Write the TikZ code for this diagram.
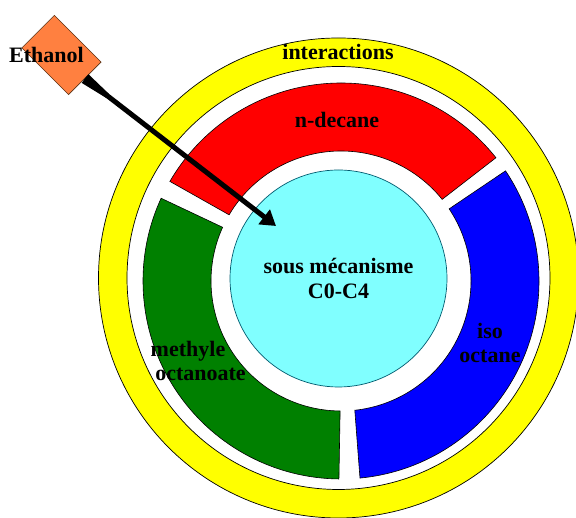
\documentclass[tikz,border=0pt]{standalone}
\usepackage{fontspec}
\setmainfont{Liberation Serif}
\usetikzlibrary{arrows.meta}
\definecolor{ringyellow}{RGB}{255,255,0}
\definecolor{segred}{RGB}{255,0,0}
\definecolor{seggreen}{RGB}{0,128,0}
\definecolor{segblue}{RGB}{0,0,255}
\definecolor{corecyan}{RGB}{128,255,255}
\definecolor{coreline}{RGB}{0,90,110}
\definecolor{ethorange}{RGB}{255,128,64}
\definecolor{ethline}{RGB}{90,50,20}
\begin{document}
\begin{tikzpicture}[x=1pt,y=1pt,
  lbl/.style={font=\bfseries\fontsize{22}{24.5}\selectfont, align=center, inner sep=0pt},
  seg/.style={draw=black, line width=0.6pt}]
\useasboundingbox (0,0) rectangle (576,518);
\clip (0,0) rectangle (576,518);
% outer yellow ring
\path[fill=ringyellow, draw=black, line width=0.7pt, even odd rule]
  (338.5,240) circle[radius=240] (338.5,240) circle[radius=211.5];
% coloured segments
\begin{scope}[shift={(341,237)}]
  \path[seg, fill=segred] (38.5:198) arc[start angle=38.5, end angle=149.8, radius=198]
     -- (149.4:130) arc[start angle=149.4, end angle=38.9, radius=130] -- cycle;
  \path[seg, fill=seggreen] (155.3:198) arc[start angle=155.3, end angle=269.4, radius=198]
     -- (269.6:130) arc[start angle=269.6, end angle=155.6, radius=130] -- cycle;
  \path[seg, fill=segblue] (-84.5:198) arc[start angle=-84.5, end angle=33.8, radius=198]
     -- (33.7:130) arc[start angle=33.7, end angle=-83.9, radius=130] -- cycle;
\end{scope}
% core
\node[circle, fill=corecyan, draw=coreline, line width=0.7pt, minimum size=217pt, lbl] (core)
  at (338.5,239.5) {sous mécanisme\\C0-C4};
% labels
\node[lbl] (inter) at (338,466) {interactions};
\node[lbl] (ndec) at (337,398) {n-decane};
\node[lbl] (meth) at (188,157) {methyle\\\hspace*{25pt}octanoate};
\node[lbl] (iso) at (490,175) {iso\\octane};
% ethanol
\node[rectangle, draw=ethline, fill=ethorange, line width=0.6pt, minimum width=66pt,
  minimum height=46pt, rotate=-45, inner sep=0pt] (eth) at (61.5,463) {};
\node[lbl] (ethlbl) at (46.5,463) {Ethanol};
\coordinate (tip) at (276,292);
\begin{scope}[shift={(eth.east)}, rotate=-37.7]
  \fill[black] (0,5.5) -- (28,2.5) -- (28,-2.5) -- (0,-5.5) -- cycle;
\end{scope}
\draw[line width=5pt, -{Triangle[length=15pt,width=18pt]}] (eth.east) -- (tip);
\end{tikzpicture}
\end{document}
